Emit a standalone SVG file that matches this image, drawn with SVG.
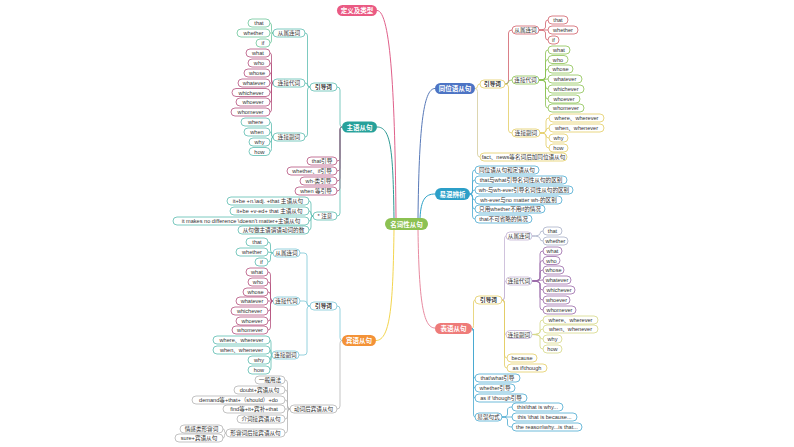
<svg xmlns="http://www.w3.org/2000/svg" width="794" height="447" viewBox="0 0 794 447">
<style>
text{font-family:"Liberation Sans","Noto Sans CJK SC",sans-serif;text-anchor:middle;dominant-baseline:central}
.n rect{fill:#fff;stroke-width:0.8}
.n text{font-size:5.6px;fill:#333}
.b text{font-weight:bold}
.m text{font-size:6.5px;fill:#fff;font-weight:bold}
.k-teal rect{stroke:#5cbcb0}.k-green rect{stroke:#6cc59a}.k-mar rect{stroke:#b5527e}.k-lb rect{stroke:#7cc6d6}
.k-grey rect{stroke:#b4b4b4}.k-yel rect{stroke:#e3cd63}.k-red rect{stroke:#d0606a}.k-gr2 rect{stroke:#8cc152}
.k-blue rect{stroke:#4aaad0}.k-pur rect{stroke:#c4b4d4}.k-pur2 rect{stroke:#9a6aa8}.k-gb rect{stroke:#a8b0c8}.k-yg rect{stroke:#d6d888}
#connectors path{fill:none;stroke-width:0.8}
.c-teal{stroke:#5cbcb0}.c-green{stroke:#6cc59a}.c-mar{stroke:#b5527e}.c-lb{stroke:#7cc6d6}.c-grey{stroke:#b4b4b4}
.c-yel{stroke:#e3cd63}.c-red{stroke:#d0606a}.c-gr2{stroke:#8cc152}.c-blue{stroke:#4aaad0}.c-pur{stroke:#c4b4d4}
.c-pur2{stroke:#9a6aa8}.c-gb{stroke:#a8b0c8}.c-yg{stroke:#d6d888}.c-fy{stroke:#d4cc9c}
</style>
<g id="connectors">
<path d="M396,218 C395,100 391,10.5 377,10.5" style="stroke:#e0608a;stroke-width:1"/>
<path d="M394,218 C393,150 391,127 377,127" style="stroke:#2f9a94;stroke-width:1"/>
<path d="M394,230 C393,300 391,340.5 376,340.5" style="stroke:#f3d54e;stroke-width:1"/>
<path d="M418,218 C419,130 423,88.5 435,88.5" style="stroke:#5879b8;stroke-width:1"/>
<path d="M420,218 C421,200 425,194 435,194" style="stroke:#2aa0c6;stroke-width:1"/>
<path d="M418,230 C419,300 423,328 435,328" style="stroke:#e88aa0;stroke-width:1"/>
<!-- subject -->
<path class="c-teal" d="M342,127 Q340,127 340,124 V90 Q340,87 337,87"/>
<path class="c-mar" d="M342,127 Q340,127 340,130 V158 Q340,161 337,161"/>
<path class="c-mar" d="M342,127 Q340,127 340,130 V168 Q340,171 337,171"/>
<path class="c-mar" d="M342,127 Q340,127 340,130 V178 Q340,181 337,181"/>
<path class="c-mar" d="M342,127 Q340,127 340,130 V188 Q340,191 337,191"/>
<path class="c-teal" d="M342,127 Q340,127 340,130 V213 Q340,216 337,216"/>
<path class="c-teal" d="M310,87 Q307.5,87 307.5,84 V36 Q307.5,33 305,33"/>
<path class="c-teal" d="M310,87 Q307.5,87 307.5,85 Q307.5,83 305,83"/>
<path class="c-teal" d="M310,87 Q307.5,87 307.5,90 V134 Q307.5,137 305,137"/>
<path class="c-green" d="M273,33 Q271.5,33 271.5,30 V26 Q271.5,23 270,23"/>
<path class="c-green" d="M273,33 H270"/>
<path class="c-green" d="M273,33 Q271.5,33 271.5,36 V40 Q271.5,43 270,43"/>
<path class="c-mar" d="M273,83 Q271.5,83 271.5,80 V56 Q271.5,53 270,53"/>
<path class="c-mar" d="M273,83 Q271.5,83 271.5,80 V66 Q271.5,63 270,63"/>
<path class="c-mar" d="M273,83 Q271.5,83 271.5,80 V76 Q271.5,73 270,73"/>
<path class="c-mar" d="M273,83 H270"/>
<path class="c-mar" d="M273,83 Q271.5,83 271.5,86 V89.5 Q271.5,92.5 270,92.5"/>
<path class="c-mar" d="M273,83 Q271.5,83 271.5,86 V99 Q271.5,102 270,102"/>
<path class="c-mar" d="M273,83 Q271.5,83 271.5,86 V109 Q271.5,112 270,112"/>
<path class="c-teal" d="M273,137 Q271.5,137 271.5,134 V125 Q271.5,122 270,122"/>
<path class="c-teal" d="M273,137 Q271.5,137 271.5,134.5 Q271.5,132 270,132"/>
<path class="c-teal" d="M273,137 Q271.5,137 271.5,139.5 Q271.5,142 270,142"/>
<path class="c-teal" d="M273,137 Q271.5,137 271.5,140 V148.5 Q271.5,151.5 270,151.5"/>
<path class="c-teal" d="M313,216 Q311,216 311,213 V204 Q311,201 309,201"/>
<path class="c-teal" d="M313,216 Q311,216 311,213.5 Q311,211 309,211"/>
<path class="c-teal" d="M313,216 Q311,216 311,218.5 Q311,221 309,221"/>
<path class="c-teal" d="M313,216 Q311,216 311,219 V227 Q311,230 309,230"/>
<!-- object -->
<path class="c-lb" d="M342,340.5 Q340,340.5 340,337.5 V309 Q340,306 337,306"/>
<path class="c-grey" d="M342,340.5 Q340,340.5 340,343.5 V406 Q340,409 337,409"/>
<path class="c-lb" d="M310,306 Q307,306 307,303 V256 Q307,253 304,253 H300"/>
<path class="c-lb" d="M310,306 Q307,306 307,303.5 Q307,301 304,301 H300"/>
<path class="c-lb" d="M310,306 Q307,306 307,309 V352 Q307,355 304,355 H299"/>
<path class="c-teal" d="M273,253 Q270.5,253 270.5,250 V245 Q270.5,242 268,242"/>
<path class="c-teal" d="M273,253 L268,252"/>
<path class="c-teal" d="M273,253 Q270.5,253 270.5,256 V259 Q270.5,262 268,262"/>
<path class="c-mar" d="M273,301 Q270.5,301 270.5,298 V275 Q270.5,272 268,272"/>
<path class="c-mar" d="M273,301 Q270.5,301 270.5,298 V285 Q270.5,282 268,282"/>
<path class="c-mar" d="M273,301 Q270.5,301 270.5,298 V295 Q270.5,292 268,292"/>
<path class="c-mar" d="M273,301 H268"/>
<path class="c-mar" d="M273,301 Q270.5,301 270.5,304 V308 Q270.5,311 268,311"/>
<path class="c-mar" d="M273,301 Q270.5,301 270.5,304 V318 Q270.5,321 268,321"/>
<path class="c-mar" d="M273,301 Q270.5,301 270.5,304 V327 Q270.5,330 268,330"/>
<path class="c-teal" d="M272,355 Q271,355 271,352 V343 Q271,340 270,340"/>
<path class="c-teal" d="M272,355 Q271,355 271,352.5 Q271,350 270,350"/>
<path class="c-teal" d="M272,355 Q271,355 271,357.5 Q271,360 270,360"/>
<path class="c-teal" d="M272,355 Q271,355 271,358 V367 Q271,370 270,370"/>
<path class="c-grey" d="M290,409 Q287.5,409 287.5,406 V383 Q287.5,380 285,380"/>
<path class="c-grey" d="M290,409 Q287.5,409 287.5,406 V393 Q287.5,390 285,390"/>
<path class="c-grey" d="M290,409 Q287.5,409 287.5,406 V403 Q287.5,400 285,400"/>
<path class="c-grey" d="M290,409 H285"/>
<path class="c-grey" d="M290,409 Q287.5,409 287.5,412 V416 Q287.5,419 285,419"/>
<path class="c-grey" d="M290,409 Q287.5,409 287.5,412 V430 Q287.5,433 285,433"/>
<path class="c-grey" d="M226,433 Q224.5,433 224.5,431 Q224.5,429 223,429"/>
<path class="c-grey" d="M226,433 Q224.5,433 224.5,435.5 Q224.5,438 223,438"/>
<!-- appositive -->
<path class="c-yel" d="M475,88.5 Q477.5,88.5 477.5,86.25 Q477.5,84 480,84"/>
<path class="c-fy" d="M475,88.5 Q477.5,88.5 477.5,91.5 V154 Q477.5,157 480,157"/>
<path class="c-red" d="M505,84 Q508.5,84 508.5,81 V33 Q508.5,30 512,30"/>
<path class="c-gr2" d="M505,84 Q508.5,84 508.5,82 Q508.5,80 512,80"/>
<path class="c-yel" d="M505,84 Q508.5,84 508.5,87 V130 Q508.5,133 512,133"/>
<path class="c-red" d="M539,30 Q545.5,30 545.5,27 V23 Q545.5,20 548,20"/>
<path class="c-red" d="M539,30 H548"/>
<path class="c-red" d="M539,30 Q545.5,30 545.5,33 V37 Q545.5,40 548,40"/>
<path class="c-gr2" d="M539,80 Q545.5,80 545.5,77 V53 Q545.5,50 548,50"/>
<path class="c-gr2" d="M539,80 Q545.5,80 545.5,77 V62.5 Q545.5,59.5 548,59.5"/>
<path class="c-gr2" d="M539,80 Q545.5,80 545.5,77 V72 Q545.5,69 548,69"/>
<path class="c-gr2" d="M539,80 L548,79"/>
<path class="c-gr2" d="M539,80 Q545.5,80 545.5,83 V86 Q545.5,89 548,89"/>
<path class="c-gr2" d="M539,80 Q545.5,80 545.5,83 V96 Q545.5,99 548,99"/>
<path class="c-gr2" d="M539,80 Q545.5,80 545.5,83 V105 Q545.5,108 548,108"/>
<path class="c-yel" d="M540,133 Q546,133 546,130 V121 Q546,118 549,118"/>
<path class="c-yel" d="M540,133 Q546,133 546,130.5 Q546,128 549,128"/>
<path class="c-yel" d="M540,133 Q546,133 546,135.5 Q546,138 549,138"/>
<path class="c-yel" d="M540,133 Q546,133 546,136 V145 Q546,148 549,148"/>
<!-- confusing -->
<path class="c-blue" d="M470,194 Q472.5,194 472.5,191 V173 Q472.5,170 475,170"/>
<path class="c-blue" d="M470,194 Q472.5,194 472.5,191 V183 Q472.5,180 475,180"/>
<path class="c-blue" d="M470,194 Q472.5,194 472.5,192 Q472.5,190 475,190"/>
<path class="c-blue" d="M470,194 Q472.5,194 472.5,197 Q472.5,200 475,200"/>
<path class="c-blue" d="M470,194 Q472.5,194 472.5,197 V206 Q472.5,209 475,209"/>
<path class="c-blue" d="M470,194 Q472.5,194 472.5,197 V216 Q472.5,219 475,219"/>
<!-- predicative -->
<path class="c-yel" d="M472,328.5 Q473.5,328.5 473.5,325.5 V303 Q473.5,300 475,300"/>
<path class="c-blue" d="M472,328.5 Q473.5,328.5 473.5,331.5 V375 Q473.5,378 475,378"/>
<path class="c-blue" d="M472,328.5 Q473.5,328.5 473.5,331.5 V385 Q473.5,388 475,388"/>
<path class="c-blue" d="M472,328.5 Q473.5,328.5 473.5,331.5 V395 Q473.5,398 475,398"/>
<path class="c-blue" d="M472,328.5 Q473.5,328.5 473.5,331.5 V414 Q473.5,417 475,417"/>
<path class="c-pur" d="M502,300 Q504.5,300 504.5,297 V239 Q504.5,236 506,236"/>
<path class="c-pur" d="M502,300 Q504.5,300 504.5,297 V284 Q504.5,281 506,281"/>
<path class="c-pur" d="M502,300 Q504.5,300 504.5,303 V331.5 Q504.5,334.5 506,334.5"/>
<path class="c-yel" d="M502,300 Q504.5,300 504.5,303 V355 Q504.5,358 507,358"/>
<path class="c-yel" d="M502,300 Q504.5,300 504.5,303 V365 Q504.5,368 507,368"/>
<path class="c-gb" d="M532,236 Q540,236 540,233.5 Q540,231 543,231"/>
<path class="c-gb" d="M532,236 Q540,236 540,238.5 Q540,241 543,241"/>
<path class="c-pur2" d="M532,281 Q540,281 540,278 V254 Q540,251 543,251"/>
<path class="c-pur2" d="M532,281 Q540,281 540,278 V263.5 Q540,260.5 543,260.5"/>
<path class="c-pur2" d="M532,281 Q540,281 540,278 V273 Q540,270 543,270"/>
<path class="c-pur2" d="M532,281 L543,280"/>
<path class="c-pur2" d="M532,281 Q540,281 540,284 V287 Q540,290 543,290"/>
<path class="c-pur2" d="M532,281 Q540,281 540,284 V297 Q540,300 543,300"/>
<path class="c-pur2" d="M532,281 Q540,281 540,284 V307 Q540,310 543,310"/>
<path class="c-yg" d="M532,334.5 Q540,334.5 540,331.5 V323 Q540,320 543,320"/>
<path class="c-yg" d="M532,334.5 Q540,334.5 540,331.75 Q540,329 543,329"/>
<path class="c-yg" d="M532,334.5 Q540,334.5 540,336.75 Q540,339 543,339"/>
<path class="c-yg" d="M532,334.5 Q540,334.5 540,337.5 V346 Q540,349 543,349"/>
<path class="c-blue" d="M502,417 Q507.5,417 507.5,414 V410 Q507.5,407 512,407"/>
<path class="c-blue" d="M502,417 H512"/>
<path class="c-blue" d="M502,417 Q507.5,417 507.5,420 V424 Q507.5,427 512,427"/>
</g>
<!-- main nodes -->
<g id="def" class="m"><rect x="337" y="5" width="40" height="11" rx="5.5" fill="#ea5a83"/><text x="357" y="10.5">定义及类型</text></g>
<g id="root" class="m"><rect x="385" y="218" width="43" height="12" rx="6" fill="#8cc152"/><text x="406.5" y="224">名词性从句</text></g>
<g id="subj" class="m"><rect x="342" y="121.5" width="35" height="11" rx="5.5" fill="#26a19a"/><text x="359.5" y="127">主语从句</text></g>
<g id="obj" class="m"><rect x="342" y="335" width="34" height="11" rx="5.5" fill="#f39237"/><text x="359" y="340.5">宾语从句</text></g>
<g id="appo" class="m"><rect x="435" y="83" width="40" height="11" rx="5.5" fill="#4d74c4"/><text x="455" y="88.5">同位语从句</text></g>
<g id="conf" class="m"><rect x="435" y="188" width="35" height="12" rx="6" fill="#2c9fc8"/><text x="452.5" y="194">易混辨析</text></g>
<g id="pred" class="m"><rect x="435" y="323" width="37" height="11" rx="5.5" fill="#ee7b79"/><text x="453.5" y="328.5">表语从句</text></g>
<!-- subject clause -->
<g id="s-intro" class="n b k-teal"><rect x="310" y="83" width="27" height="8" rx="4"/><text x="323.5" y="87">引导词</text></g>
<g id="s-conj" class="n k-teal"><rect x="273" y="29" width="32" height="8" rx="4"/><text x="289" y="33">从属连词</text></g>
<g id="s-pron" class="n k-teal"><rect x="273" y="79" width="32" height="8" rx="4"/><text x="289" y="83">连接代词</text></g>
<g id="s-adv" class="n k-teal"><rect x="273" y="133" width="32" height="8" rx="4"/><text x="289" y="137">连接副词</text></g>
<g id="s-that" class="n k-green"><rect x="248" y="19" width="22" height="8" rx="4"/><text x="259" y="23">that</text></g>
<g id="s-whether" class="n k-green"><rect x="237" y="29" width="33" height="8" rx="4"/><text x="253.5" y="33">whether</text></g>
<g id="s-if" class="n k-green"><rect x="256" y="39" width="14" height="8" rx="4"/><text x="263" y="43">if</text></g>
<g id="s-what" class="n k-mar"><rect x="246" y="49" width="24" height="8" rx="4"/><text x="258" y="53">what</text></g>
<g id="s-who" class="n k-mar"><rect x="248" y="59" width="22" height="8" rx="4"/><text x="259" y="63">who</text></g>
<g id="s-whose" class="n k-mar"><rect x="244" y="69" width="26" height="8" rx="4"/><text x="257" y="73">whose</text></g>
<g id="s-whatever" class="n k-mar"><rect x="238" y="79" width="32" height="8" rx="4"/><text x="254" y="83">whatever</text></g>
<g id="s-whichever" class="n k-mar"><rect x="232" y="88.5" width="38" height="8" rx="4"/><text x="251" y="92.5">whichever</text></g>
<g id="s-whoever" class="n k-mar"><rect x="236" y="98" width="34" height="8" rx="4"/><text x="253" y="102">whoever</text></g>
<g id="s-whomever" class="n k-mar"><rect x="231" y="108" width="39" height="8" rx="4"/><text x="250.5" y="112">whomever</text></g>
<g id="s-where" class="n k-teal"><rect x="241" y="118" width="29" height="8" rx="4"/><text x="255.5" y="122">where</text></g>
<g id="s-when" class="n k-teal"><rect x="244" y="128" width="26" height="8" rx="4"/><text x="257" y="132">when</text></g>
<g id="s-why" class="n k-teal"><rect x="249" y="138" width="21" height="8" rx="4"/><text x="259.5" y="142">why</text></g>
<g id="s-how" class="n k-teal"><rect x="249" y="147.5" width="21" height="8" rx="4"/><text x="259.5" y="151.5">how</text></g>
<g id="s-that-i" class="n k-mar"><rect x="307" y="157" width="30" height="8" rx="4"/><text x="322" y="161">that引导</text></g>
<g id="s-wif-i" class="n k-mar"><rect x="287" y="167" width="50" height="8" rx="4"/><text x="312" y="171">whether、if引导</text></g>
<g id="s-wh-i" class="n k-mar"><rect x="300" y="177" width="37" height="8" rx="4"/><text x="318.5" y="181">wh-类引导</text></g>
<g id="s-when-i" class="n k-mar"><rect x="295" y="187" width="42" height="8" rx="4"/><text x="316" y="191">when 等引导</text></g>
<g id="s-note" class="n k-teal"><rect x="313" y="212" width="24" height="8" rx="4"/><text x="325" y="216">* 注意</text></g>
<g id="s-n1" class="n k-teal"><rect x="227" y="197" width="82" height="8" rx="4"/><text x="268" y="201">it+be +n.\adj. +that 主语从句</text></g>
<g id="s-n2" class="n k-teal"><rect x="230" y="207" width="79" height="8" rx="4"/><text x="269.5" y="211">it+be +v-ed+ that 主语从句</text></g>
<g id="s-n3" class="n k-teal"><rect x="173" y="217" width="136" height="8" rx="4"/><text x="241" y="221">it makes no difference \doesn't matter+主语从句</text></g>
<g id="s-n4" class="n k-teal"><rect x="238" y="226" width="71" height="8" rx="4"/><text x="273.5" y="230">从句做主语谓语动词的数</text></g>
<!-- object clause -->
<g id="o-intro" class="n b k-lb"><rect x="310" y="302" width="27" height="8" rx="4"/><text x="323.5" y="306">引导词</text></g>
<g id="o-conj" class="n k-lb"><rect x="273" y="249" width="27" height="8" rx="4"/><text x="286.5" y="253">从属连词</text></g>
<g id="o-pron" class="n k-lb"><rect x="273" y="297" width="27" height="8" rx="4"/><text x="286.5" y="301">连接代词</text></g>
<g id="o-adv" class="n k-lb"><rect x="272" y="351" width="27" height="8" rx="4"/><text x="285.5" y="355">连接副词</text></g>
<g id="o-that" class="n k-teal"><rect x="246" y="238" width="22" height="8" rx="4"/><text x="257" y="242">that</text></g>
<g id="o-whether" class="n k-teal"><rect x="236" y="248" width="32" height="8" rx="4"/><text x="252" y="252">whether</text></g>
<g id="o-if" class="n k-teal"><rect x="255" y="258" width="13" height="8" rx="4"/><text x="261.5" y="262">if</text></g>
<g id="o-what" class="n k-mar"><rect x="246" y="268" width="22" height="8" rx="4"/><text x="257" y="272">what</text></g>
<g id="o-who" class="n k-mar"><rect x="248" y="278" width="20" height="8" rx="4"/><text x="258" y="282">who</text></g>
<g id="o-whose" class="n k-mar"><rect x="243" y="288" width="25" height="8" rx="4"/><text x="255.5" y="292">whose</text></g>
<g id="o-whatever" class="n k-mar"><rect x="236" y="297" width="32" height="8" rx="4"/><text x="252" y="301">whatever</text></g>
<g id="o-whichever" class="n k-mar"><rect x="231" y="307" width="37" height="8" rx="4"/><text x="249.5" y="311">whichever</text></g>
<g id="o-whoever" class="n k-mar"><rect x="236" y="317" width="32" height="8" rx="4"/><text x="252" y="321">whoever</text></g>
<g id="o-whomever" class="n k-mar"><rect x="232" y="326" width="36" height="8" rx="4"/><text x="250" y="330">whomever</text></g>
<g id="o-where" class="n k-teal"><rect x="213" y="336" width="57" height="8" rx="4"/><text x="241.5" y="340">where、wherever</text></g>
<g id="o-when" class="n k-teal"><rect x="213" y="346" width="57" height="8" rx="4"/><text x="241.5" y="350">when、whenever</text></g>
<g id="o-why" class="n k-teal"><rect x="248" y="356" width="22" height="8" rx="4"/><text x="259" y="360">why</text></g>
<g id="o-how" class="n k-teal"><rect x="248" y="366" width="22" height="8" rx="4"/><text x="259" y="370">how</text></g>
<g id="o-verb" class="n k-grey"><rect x="290" y="405" width="47" height="8" rx="4"/><text x="313.5" y="409">动词后宾语从句</text></g>
<g id="o-v1" class="n k-grey"><rect x="255" y="376" width="30" height="8" rx="4"/><text x="270" y="380">一般用法</text></g>
<g id="o-v2" class="n k-grey"><rect x="234" y="386" width="51" height="8" rx="4"/><text x="259.5" y="390">doubt+宾语从句</text></g>
<g id="o-v3" class="n k-grey"><rect x="192" y="396" width="93" height="8" rx="4"/><text x="238.5" y="400">demand等+that+（should）+do</text></g>
<g id="o-v4" class="n k-grey"><rect x="223" y="405" width="62" height="8" rx="4"/><text x="254" y="409">find等+it+宾补+that</text></g>
<g id="o-v5" class="n k-grey"><rect x="237" y="415" width="48" height="8" rx="4"/><text x="261" y="419">介词接宾语从句</text></g>
<g id="o-v6" class="n k-grey"><rect x="226" y="429" width="59" height="8" rx="4"/><text x="255.5" y="433">形容词后接宾语从句</text></g>
<g id="o-a1" class="n k-grey"><rect x="180" y="425" width="43" height="8" rx="4"/><text x="201.5" y="429">情感类形容词</text></g>
<g id="o-a2" class="n k-grey"><rect x="175" y="434" width="48" height="8" rx="4"/><text x="199" y="438">sure+宾语从句</text></g>
<!-- appositive clause -->
<g id="a-intro" class="n b k-yel"><rect x="480" y="80" width="25" height="8" rx="4"/><text x="492.5" y="84">引导词</text></g>
<g id="a-fact" class="n k-yel"><rect x="480" y="153" width="87" height="8" rx="4"/><text x="523.5" y="157">fact、news等名词后加同位语从句</text></g>
<g id="a-conj" class="n k-red"><rect x="512" y="26" width="27" height="8" rx="4"/><text x="525.5" y="30">从属连词</text></g>
<g id="a-pron" class="n k-gr2"><rect x="512" y="76" width="27" height="8" rx="4"/><text x="525.5" y="80">连接代词</text></g>
<g id="a-adv" class="n k-yel"><rect x="512" y="129" width="28" height="8" rx="4"/><text x="526" y="133">连接副词</text></g>
<g id="a-that" class="n k-red"><rect x="548" y="16" width="20" height="8" rx="4"/><text x="558" y="20">that</text></g>
<g id="a-whether" class="n k-red"><rect x="548" y="26" width="30" height="8" rx="4"/><text x="563" y="30">whether</text></g>
<g id="a-if" class="n k-red"><rect x="548" y="36" width="11" height="8" rx="4"/><text x="553.5" y="40">if</text></g>
<g id="a-what" class="n k-gr2"><rect x="548" y="46" width="22" height="8" rx="4"/><text x="559" y="50">what</text></g>
<g id="a-who" class="n k-gr2"><rect x="548" y="55.5" width="20" height="8" rx="4"/><text x="558" y="59.5">who</text></g>
<g id="a-whose" class="n k-gr2"><rect x="548" y="65" width="25" height="8" rx="4"/><text x="560.5" y="69">whose</text></g>
<g id="a-whatever" class="n k-gr2"><rect x="548" y="75" width="34" height="8" rx="4"/><text x="565" y="79">whatever</text></g>
<g id="a-whichever" class="n k-gr2"><rect x="548" y="85" width="36" height="8" rx="4"/><text x="566" y="89">whichever</text></g>
<g id="a-whoever" class="n k-gr2"><rect x="548" y="95" width="32" height="8" rx="4"/><text x="564" y="99">whoever</text></g>
<g id="a-whomever" class="n k-gr2"><rect x="548" y="104" width="36" height="8" rx="4"/><text x="566" y="108">whomever</text></g>
<g id="a-where" class="n k-yel"><rect x="549" y="114" width="55" height="8" rx="4"/><text x="576.5" y="118">where、wherever</text></g>
<g id="a-when" class="n k-yel"><rect x="549" y="124" width="55" height="8" rx="4"/><text x="576.5" y="128">when、whenever</text></g>
<g id="a-why" class="n k-yel"><rect x="549" y="134" width="19" height="8" rx="4"/><text x="558.5" y="138">why</text></g>
<g id="a-how" class="n k-yel"><rect x="549" y="144" width="19" height="8" rx="4"/><text x="558.5" y="148">how</text></g>
<!-- confusing points -->
<g id="e-1" class="n k-blue"><rect x="475" y="166" width="64" height="8" rx="4"/><text x="507" y="170">同位语从句和定语从句</text></g>
<g id="e-2" class="n k-blue"><rect x="475" y="176" width="92" height="8" rx="4"/><text x="521" y="180">that与what引导名词性从句的区别</text></g>
<g id="e-3" class="n k-blue"><rect x="475" y="186" width="98" height="8" rx="4"/><text x="524" y="190">wh-与wh-ever引导名词性从句的区别</text></g>
<g id="e-4" class="n k-blue"><rect x="475" y="196" width="87" height="8" rx="4"/><text x="518.5" y="200">wh-ever与no matter wh-的区别</text></g>
<g id="e-5" class="n k-blue"><rect x="475" y="205" width="70" height="8" rx="4"/><text x="510" y="209">只用whether不用if的情况</text></g>
<g id="e-6" class="n k-blue"><rect x="475" y="215" width="57" height="8" rx="4"/><text x="503.5" y="219">that不可省略的情况</text></g>
<!-- predicative clause -->
<g id="p-intro" class="n b k-yel"><rect x="475" y="296" width="27" height="8" rx="4"/><text x="488.5" y="300">引导词</text></g>
<g id="p-conj" class="n k-pur"><rect x="506" y="232" width="26" height="8" rx="4"/><text x="519" y="236">从属连词</text></g>
<g id="p-pron" class="n k-pur"><rect x="506" y="277" width="26" height="8" rx="4"/><text x="519" y="281">连接代词</text></g>
<g id="p-adv" class="n k-pur"><rect x="506" y="330.5" width="26" height="8" rx="4"/><text x="519" y="334.5">连接副词</text></g>
<g id="p-that" class="n k-gb"><rect x="543" y="227" width="19" height="8" rx="4"/><text x="552.5" y="231">that</text></g>
<g id="p-whether" class="n k-gb"><rect x="543" y="237" width="25" height="8" rx="4"/><text x="555.5" y="241">whether</text></g>
<g id="p-what" class="n k-pur2"><rect x="543" y="247" width="19" height="8" rx="4"/><text x="552.5" y="251">what</text></g>
<g id="p-who" class="n k-pur2"><rect x="543" y="256.5" width="17" height="8" rx="4"/><text x="551.5" y="260.5">who</text></g>
<g id="p-whose" class="n k-pur2"><rect x="543" y="266" width="21" height="8" rx="4"/><text x="553.5" y="270">whose</text></g>
<g id="p-whatever" class="n k-pur2"><rect x="543" y="276" width="28" height="8" rx="4"/><text x="557" y="280">whatever</text></g>
<g id="p-whichever" class="n k-pur2"><rect x="543" y="286" width="32" height="8" rx="4"/><text x="559" y="290">whichever</text></g>
<g id="p-whoever" class="n k-pur2"><rect x="543" y="296" width="27" height="8" rx="4"/><text x="556.5" y="300">whoever</text></g>
<g id="p-whomever" class="n k-pur2"><rect x="543" y="306" width="33" height="8" rx="4"/><text x="559.5" y="310">whomever</text></g>
<g id="p-where" class="n k-yg"><rect x="543" y="316" width="55" height="8" rx="4"/><text x="570.5" y="320">where、wherever</text></g>
<g id="p-when" class="n k-yg"><rect x="543" y="325" width="55" height="8" rx="4"/><text x="570.5" y="329">when、whenever</text></g>
<g id="p-why" class="n k-yg"><rect x="543" y="335" width="19" height="8" rx="4"/><text x="552.5" y="339">why</text></g>
<g id="p-how" class="n k-yg"><rect x="543" y="345" width="19" height="8" rx="4"/><text x="552.5" y="349">how</text></g>
<g id="p-because" class="n k-yel"><rect x="507" y="354" width="30" height="8" rx="4"/><text x="522" y="358">because</text></g>
<g id="p-asif" class="n k-yel"><rect x="507" y="364" width="40" height="8" rx="4"/><text x="527" y="368">as if\though</text></g>
<g id="p-tw" class="n k-blue"><rect x="475" y="374" width="45" height="8" rx="4"/><text x="497.5" y="378">that\what引导</text></g>
<g id="p-wh" class="n k-blue"><rect x="475" y="384" width="40" height="8" rx="4"/><text x="495" y="388">whether引导</text></g>
<g id="p-ai" class="n k-blue"><rect x="475" y="394" width="52" height="8" rx="4"/><text x="501" y="398">as if \though引导</text></g>
<g id="p-mix" class="n k-blue"><rect x="475" y="413" width="27" height="8" rx="4"/><text x="488.5" y="417">易混句式</text></g>
<g id="p-m1" class="n k-blue"><rect x="512" y="403" width="51" height="8" rx="4"/><text x="537.5" y="407">this\that is why...</text></g>
<g id="p-m2" class="n k-blue"><rect x="512" y="413" width="65" height="8" rx="4"/><text x="544.5" y="417">this \that is because...</text></g>
<g id="p-m3" class="n k-blue"><rect x="512" y="423" width="70" height="8" rx="4"/><text x="547" y="427">the reason\why...is that...</text></g>
</svg>
